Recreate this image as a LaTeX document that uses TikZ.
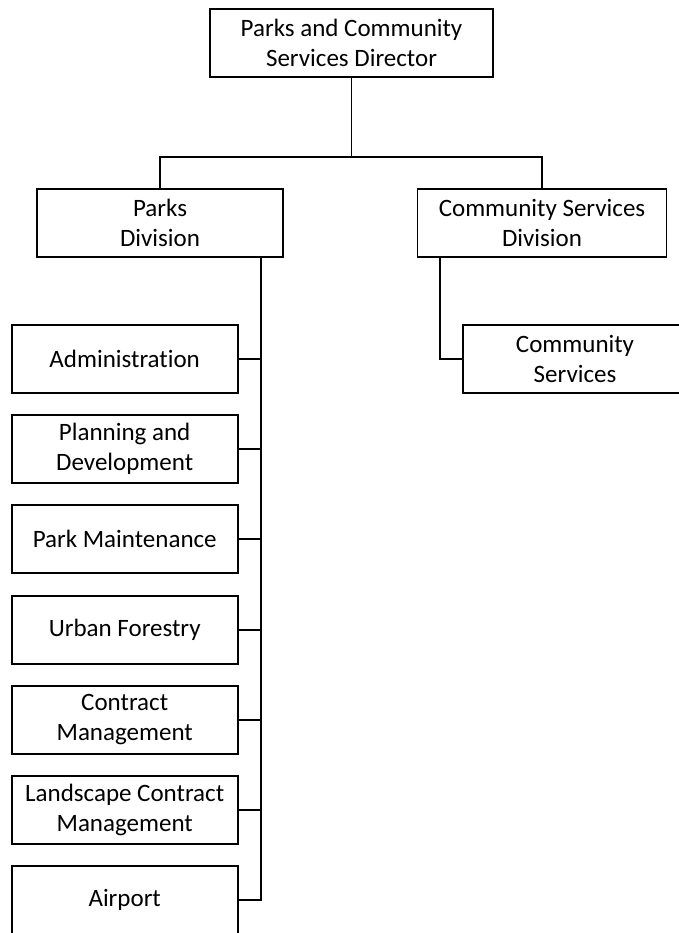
\documentclass[tikz,border=0pt]{standalone}
\usepackage{fontspec}
\setmainfont[Ligatures=NoCommon]{Carlito}
\usetikzlibrary{calc}
\begin{document}
\begin{tikzpicture}[x=1pt,y=-1pt,
  unit/.style={draw, line width=1.9pt, rectangle, align=center, inner sep=0pt,
    minimum height=68pt, font=\fontsize{25}{30}\selectfont},
  link/.style={line width=1.9pt}]
\clip (0,0) rectangle (679,933);
\fill[white] (0,0) rectangle (679,933);

% top level
\node[unit, minimum width=283pt] (dir) at (351.5,43) {Parks and Community\\Services Director};

% divisions
\node[unit, minimum width=246pt] (pd) at (160,223.3) {Parks\\Division};
\node[unit, minimum width=249pt] (csd) at (542,223.3) {Community Services\\Division};

% parks sections
\node[unit, minimum width=226pt] (adm) at (124.7,359) {Administration};
\node[unit, minimum width=226pt] (pln) at (124.7,449.2) {Planning and\\Development};
\node[unit, minimum width=226pt] (pmn) at (124.7,539.4) {Park Maintenance};
\node[unit, minimum width=226pt] (urb) at (124.7,629.6) {Urban Forestry};
\node[unit, minimum width=226pt] (con) at (124.7,719.8) {Contract\\Management};
\node[unit, minimum width=226pt] (lcm) at (124.7,810) {Landscape Contract\\Management};
\node[unit, minimum width=226pt] (air) at (124.7,900.2) {Airport};

% community services section
\node[unit, minimum width=224pt] (cs) at (575,359) {Community\\Services};

% director to divisions
\coordinate (bar) at ($(dir.south)+(0,79)$);
\draw[link] (dir.south) -- (bar);
\draw[link] (pd.north) |- (bar) -| (csd.north);

% parks division spine
\coordinate (sp) at ($(pd.south east)+(-23,0)$);
\draw[link] (sp) |- (air.east);
\foreach \n in {adm,pln,pmn,urb,con,lcm}
  \draw[link] (\n.east) -- (\n.east -| sp);

% community services division link
\coordinate (cp) at ($(csd.south west)+(23.4,0)$);
\draw[link] (cp) |- (cs.west);
\end{tikzpicture}
\end{document}
